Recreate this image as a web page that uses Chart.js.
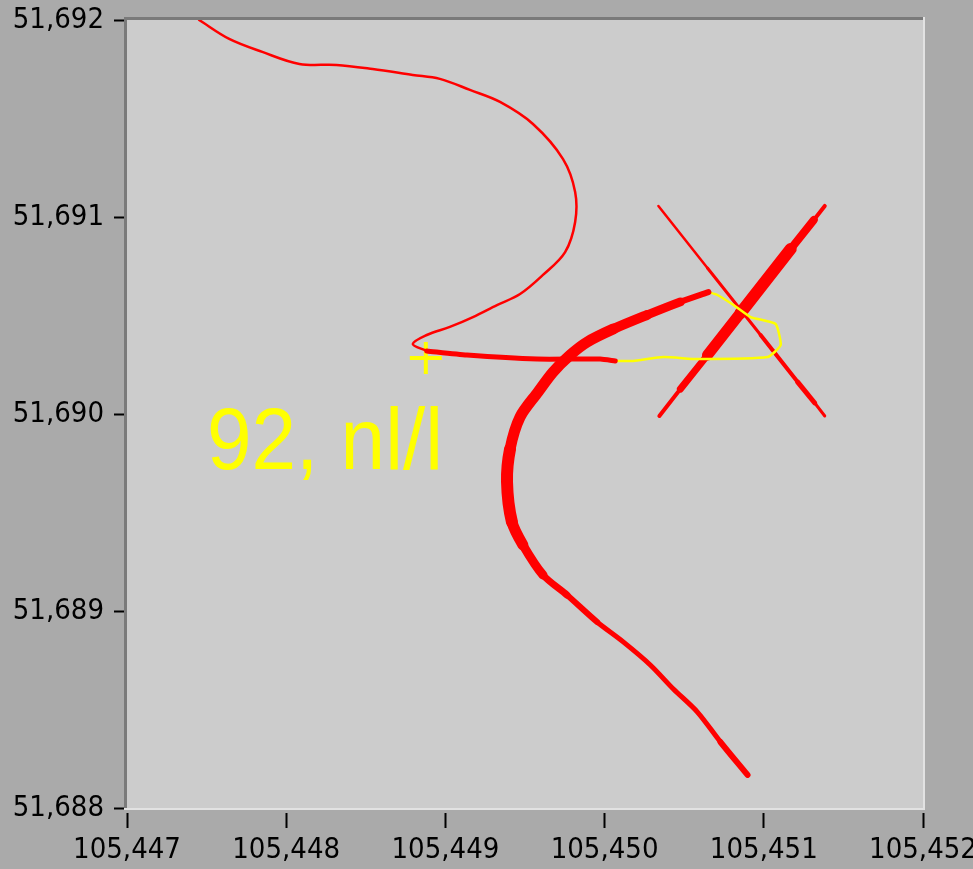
<!DOCTYPE html>
<html>
<head>
<meta charset="utf-8">
<script src="https://cdn.jsdelivr.net/npm/chart.js@4/dist/chart.umd.min.js"></script>
<style>
html,body{margin:0;padding:0;background:#aaaaaa;}
#wrap{width:973px;height:869px;position:relative;}
</style>
</head>
<body>
<div id="wrap"><canvas id="c" width="973" height="869"></canvas></div>
<script>
// Axis ranges & tick labels
const xTicks = [105447, 105448, 105449, 105450, 105451, 105452];
const yTicks = [51688, 51689, 51690, 51691, 51692];
const annotationText = "92, nl/l";

// Thin upper trace (x, y pairs)
const thinTopX = [105447.453,105447.642,105447.850,105448.083,105448.316,105448.543,105448.795,105448.965,105449.154,105449.343,105449.550,105449.739,105449.815,105449.815,105449.752,105449.613,105449.469,105449.324,105449.173,105449.028,105448.883,105448.795,105448.883];
const thinTopY = [51692.000,51691.904,51691.838,51691.777,51691.772,51691.751,51691.721,51691.701,51691.645,51691.584,51691.472,51691.294,51691.127,51690.975,51690.822,51690.706,51690.609,51690.553,51690.492,51690.442,51690.401,51690.355,51690.320];

// Horizontal band
const bandX = [105448.883,105449.135,105449.576,105449.972,105450.067];
const bandY = [51690.320,51690.299,51690.279,51690.279,51690.269];

// Yellow loop
const loopX = [105450.067,105450.180,105450.369,105450.583,105451.024,105451.106,105451.074,105450.917,105450.810,105450.709,105450.652];
const loopY = [51690.269,51690.269,51690.289,51690.279,51690.289,51690.350,51690.457,51690.492,51690.553,51690.604,51690.619];

// Thick lower trace
const thickX = [105450.652,105450.476,105450.268,105450.054,105449.890,105449.783,105449.676,105449.582,105449.469,105449.406,105449.387,105449.418,105449.487,105449.613,105449.764,105449.953,105450.117,105450.287,105450.432,105450.583,105450.728,105450.898];
const thickY = [51690.619,51690.569,51690.503,51690.431,51690.365,51690.299,51690.213,51690.112,51689.985,51689.822,51689.655,51689.452,51689.335,51689.183,51689.081,51688.944,51688.843,51688.726,51688.604,51688.487,51688.335,51688.168];
const thickW = [6,9,10,11,11,11,11,11,11,12,12,11,9,7,6,5,5,5,5,5,6];

// Cross lines
const cross1X = [105450.338,105450.646,105450.980,105451.213,105451.320,105451.383];
const cross1Y = [51691.056,51690.741,51690.401,51690.162,51690.056,51689.990];
const cross1W = [2.5,3,4,5,3];
const cross2X = [105450.344,105450.476,105450.646,105450.854,105451.169,105451.314,105451.383];
const cross2Y = [51689.990,51690.127,51690.299,51690.513,51690.838,51690.985,51691.056];
const cross2W = [4,7,11,12,8,4];

// Cursor marker
const cursorX = [105448.877];
const cursorY = [51690.284];

const RED = '#ff0000', YEL = '#ffff00';
function pts(xs, ys){ return xs.map((x,i)=>({x:x, y:ys[i]})); }
function line(xs, ys, color, w, widths, tension){
  const ds = {data: pts(xs,ys), borderColor: color, borderWidth: w, pointRadius: 0,
    showLine: true, fill: false, tension: tension || 0, borderCapStyle: 'round', borderJoinStyle: 'round'};
  if (widths) ds.segment = { borderWidth: ctx => widths[ctx.p0DataIndex] };
  return ds;
}

const datasets = [
  line(thinTopX, thinTopY, RED, 2.5, null, 0.35),
  line(thickX, thickY, RED, 10, thickW, 0.3),
  line(bandX, bandY, RED, 5, null, 0.2),
  line(loopX, loopY, YEL, 2.5, null, 0.15),
  line(cross1X, cross1Y, RED, 3, cross1W, 0),
  line(cross2X, cross2Y, RED, 5, cross2W, 0),
  {data: pts(cursorX, cursorY), showLine:false, pointStyle:'cross', pointRadius:16, pointBorderWidth:4,
   borderWidth:4, borderColor: YEL, backgroundColor: YEL, pointBorderColor: YEL, pointHoverRadius:16}
];

const frame = {
  id: 'frame',
  beforeDatasetsDraw(chart){
    const {ctx, chartArea:a} = chart;
    ctx.save();
    ctx.fillStyle = '#cccccc';
    ctx.fillRect(a.left, a.top, a.right-a.left, a.bottom-a.top);
    ctx.restore();
  },
  afterDatasetsDraw(chart){
    const {ctx, chartArea:a} = chart;
    ctx.save();
    // annotation text
    ctx.fillStyle = YEL;
    ctx.font = '88px "Liberation Sans", Arial, sans-serif';
    ctx.textBaseline = 'alphabetic';
    const w = ctx.measureText(annotationText).width;
    ctx.translate(207, 469);
    ctx.scale(236 / w, 1);
    ctx.fillText(annotationText, 0, 0);
    ctx.restore();
    ctx.save();
    // sunken frame
    ctx.lineWidth = 3;
    ctx.strokeStyle = '#7a7a7a';
    ctx.beginPath();
    ctx.moveTo(a.left-1.5, a.bottom);
    ctx.lineTo(a.left-1.5, a.top-1.5);
    ctx.lineTo(a.right, a.top-1.5);
    ctx.stroke();
    ctx.strokeStyle = '#e2e2e2';
    ctx.lineWidth = 2;
    ctx.beginPath();
    ctx.moveTo(a.left-3, a.bottom+1);
    ctx.lineTo(a.right+1, a.bottom+1);
    ctx.lineTo(a.right+1, a.top-3);
    ctx.stroke();
    ctx.restore();
  }
};

const fmt = v => String(v).replace(/(\d)(?=(\d{3})+$)/, '$1,');
const tickFont = {family: '"DejaVu Sans Condensed", "Liberation Sans Narrow", sans-serif', size: 29};

new Chart(document.getElementById('c'), {
  type: 'scatter',
  data: {datasets},
  plugins: [frame],
  options: {
    responsive: false,
    animation: false,
    events: [],
    layout: {padding: {top: 18, right: 50, left: 0, bottom: 0}},
    plugins: {legend: {display: false}, tooltip: {enabled: false}},
    scales: {
      x: {
        type: 'linear', min: xTicks[0], max: xTicks[xTicks.length-1],
        afterBuildTicks: s => { s.ticks = xTicks.map(v => ({value: v})); },
        afterFit: s => { s.height = 61; s.paddingLeft = 0; s.paddingRight = 0; },
        border: {display: false},
        grid: {drawOnChartArea: false, tickLength: 20, tickColor: '#000', tickWidth: 2,
               tickBorderDash: [15, 5], tickBorderDashOffset: 15},
        ticks: {color: '#000', font: tickFont, padding: 5, maxRotation: 0, autoSkip: false,
                callback: v => fmt(v)}
      },
      y: {
        type: 'linear', min: yTicks[0], max: yTicks[yTicks.length-1],
        afterBuildTicks: s => { s.ticks = yTicks.map(v => ({value: v})); },
        afterFit: s => { s.width = 127; s.paddingTop = 0; s.paddingBottom = 0; },
        border: {display: false},
        grid: {drawOnChartArea: false, tickLength: 18, tickColor: '#000', tickWidth: 2,
               tickBorderDash: [13, 5], tickBorderDashOffset: 13},
        ticks: {color: '#000', font: tickFont, padding: 5, autoSkip: false,
                callback: v => fmt(v)}
      }
    }
  }
});
</script>
</body>
</html>
